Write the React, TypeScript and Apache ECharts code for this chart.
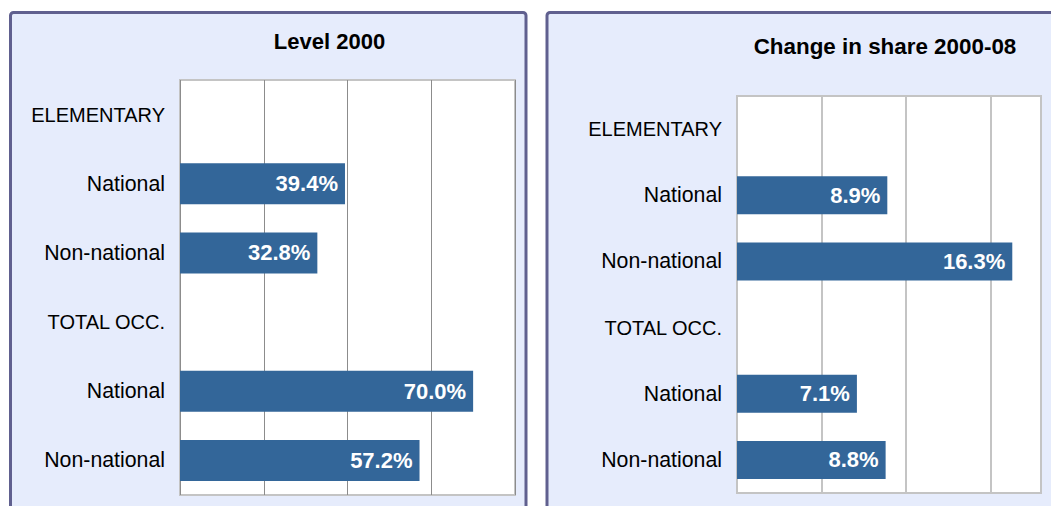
import React, { useEffect, useRef } from "react";
import * as echarts from "echarts";

const categories = ["ELEMENTARY", "National", "Non-national", "TOTAL OCC.", "National", "Non-national"];
const levelValues: (number | string)[] = ["-", 39.4, 32.8, "-", 70.0, 57.2];
const changeValues: (number | string)[] = ["-", 8.9, 16.3, "-", 7.1, 8.8];
const titleLeft = "Level 2000";
const titleRight = "Change in share 2000-08";

const FONT = "'Liberation Sans', Arial, sans-serif";
const BAR = "#336699";

export default function App() {
  const ref = useRef<HTMLDivElement>(null);
  useEffect(() => {
    if (!ref.current) return;
    const chart = echarts.init(ref.current, undefined, { renderer: "svg" });
    const labelCfg = {
      show: true,
      position: "insideRight",
      distance: 7,
      color: "#ffffff",
      fontWeight: "bold",
      fontSize: 22,
      fontFamily: FONT,
      formatter: (p: any) => Number(p.value).toFixed(1) + "%",
    };
    const yAxisCfg = (gi: number) => ({
      type: "category",
      gridIndex: gi,
      data: categories,
      inverse: true,
      axisLine: { show: false },
      axisTick: { show: false },
      axisLabel: {
        color: "#000",
        fontSize: 20,
        fontFamily: FONT,
        margin: 15,
        formatter: (v: string) => (v === v.toUpperCase() ? `{u|${v}}` : `{l|${v}}`),
        rich: {
          u: { fontSize: 20, fontFamily: FONT, color: "#000" },
          l: { fontSize: 21.3, fontFamily: FONT, color: "#000" },
        },
      },
    });
    chart.setOption({
      animation: false,
      graphic: [
        {
          type: "rect",
          z: -10,
          shape: { x: 10.5, y: 12.5, width: 515.5, height: 520, r: 3 },
          style: { fill: "#e6ecfc", stroke: "#60608f", lineWidth: 3 },
        },
        {
          type: "rect",
          z: -10,
          shape: { x: 547, y: 12.5, width: 520, height: 520, r: 3 },
          style: { fill: "#e6ecfc", stroke: "#60608f", lineWidth: 3 },
        },
        {
          type: "text",
          x: 329.5,
          y: 41,
          style: { text: titleLeft, fill: "#000", font: `bold 22px ${FONT}`, align: "center", verticalAlign: "middle" },
        },
        {
          type: "text",
          x: 885,
          y: 46,
          style: { text: titleRight, fill: "#000", font: `bold 22.4px ${FONT}`, align: "center", verticalAlign: "middle" },
        },
      ],
      grid: [
        { left: 180, top: 80, width: 335, height: 415, show: true, backgroundColor: "#fff", borderColor: "#c4c4c4", borderWidth: 2 },
        { left: 737, top: 96, width: 304, height: 397, show: true, backgroundColor: "#fff", borderColor: "#c4c4c4", borderWidth: 2 },
      ],
      xAxis: [
        {
          type: "value", gridIndex: 0, min: 0, max: 80, interval: 20,
          axisLabel: { show: false }, axisLine: { show: false }, axisTick: { show: false },
          splitLine: { show: true, lineStyle: { color: "#8c8c8c", width: 1 } },
        },
        {
          type: "value", gridIndex: 1, min: 0, max: 18, interval: 5,
          axisLabel: { show: false }, axisLine: { show: false }, axisTick: { show: false },
          splitLine: { show: true, lineStyle: { color: "#c4c4c4", width: 2 } },
        },
      ],
      yAxis: [yAxisCfg(0), yAxisCfg(1)],
      series: [
        { type: "bar", xAxisIndex: 0, yAxisIndex: 0, data: levelValues, barWidth: 41, itemStyle: { color: BAR }, label: labelCfg },
        { type: "bar", xAxisIndex: 1, yAxisIndex: 1, data: changeValues, barWidth: 38, itemStyle: { color: BAR }, label: labelCfg },
      ],
    });
    return () => chart.dispose();
  }, []);
  return <div ref={ref} style={{ position: "absolute", left: 0, top: 0, width: 1051, height: 506 }} />;
}
